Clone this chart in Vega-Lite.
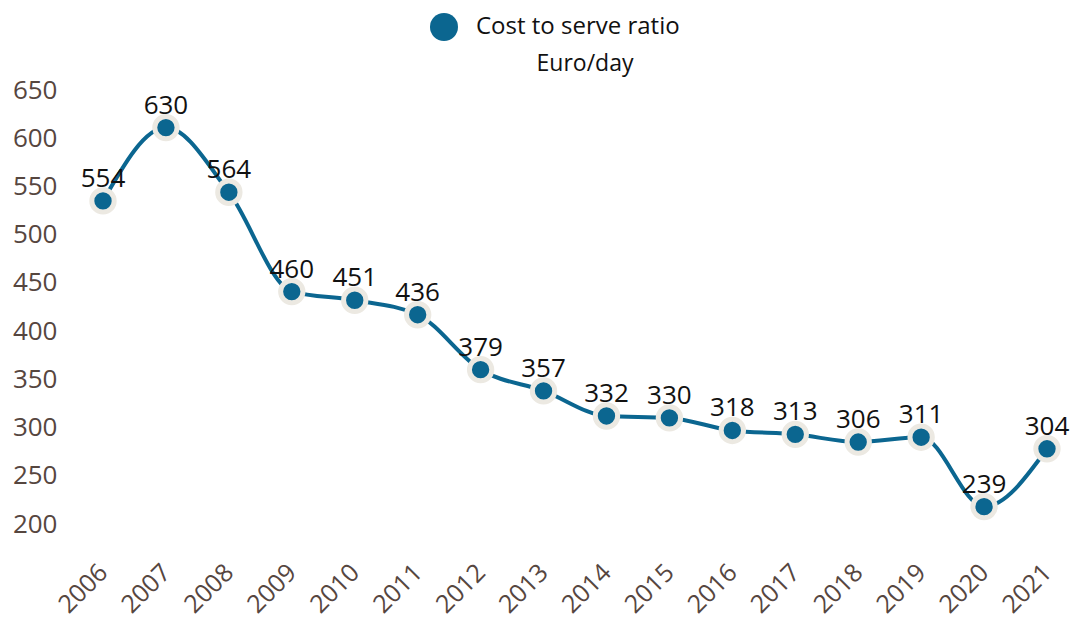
{
  "$schema": "https://vega.github.io/schema/vega-lite/v6.json",
  "width": 944,
  "height": 434,
  "autosize": {"type": "none"},
  "padding": {"left": 103, "top": 90, "right": 32, "bottom": 104},
  "background": "white",
  "config": {"view": {"stroke": null}},
  "title": {"text": "Euro/day", "font": "Open Sans", "fontSize": 23, "fontWeight": "normal", "color": "#111111", "anchor": "middle", "frame": "group", "offset": 16, "dx": 10, "dy": 97, "baseline": "alphabetic"},
  "data": {"values": [
    {"year": "2006", "plot": 535, "label": 554, "series": "Cost to serve ratio"},
    {"year": "2007", "plot": 611, "label": 630, "series": "Cost to serve ratio"},
    {"year": "2008", "plot": 544, "label": 564, "series": "Cost to serve ratio"},
    {"year": "2009", "plot": 441, "label": 460, "series": "Cost to serve ratio"},
    {"year": "2010", "plot": 432, "label": 451, "series": "Cost to serve ratio"},
    {"year": "2011", "plot": 417, "label": 436, "series": "Cost to serve ratio"},
    {"year": "2012", "plot": 360, "label": 379, "series": "Cost to serve ratio"},
    {"year": "2013", "plot": 338, "label": 357, "series": "Cost to serve ratio"},
    {"year": "2014", "plot": 312, "label": 332, "series": "Cost to serve ratio"},
    {"year": "2015", "plot": 310, "label": 330, "series": "Cost to serve ratio"},
    {"year": "2016", "plot": 297, "label": 318, "series": "Cost to serve ratio"},
    {"year": "2017", "plot": 293, "label": 313, "series": "Cost to serve ratio"},
    {"year": "2018", "plot": 285, "label": 306, "series": "Cost to serve ratio"},
    {"year": "2019", "plot": 290, "label": 311, "series": "Cost to serve ratio"},
    {"year": "2020", "plot": 218, "label": 239, "series": "Cost to serve ratio"},
    {"year": "2021", "plot": 278, "label": 304, "series": "Cost to serve ratio"}
  ]},
  "encoding": {
    "x": {"field": "year", "type": "ordinal", "scale": {"type": "point", "padding": 0},
      "axis": {"title": null, "labelAngle": -45, "labelAlign": "right", "labelBaseline": "middle", "labelFont": "Open Sans", "labelFontSize": 25, "labelColor": "#56463f", "labelPadding": 44, "ticks": false, "domain": false, "grid": false, "labelFlush": false, "labelOverlap": false, "labelBound": false}},
    "y": {"field": "plot", "type": "quantitative", "scale": {"domain": [200, 650], "nice": false, "zero": false},
      "axis": {"title": null, "values": [200, 250, 300, 350, 400, 450, 500, 550, 600, 650], "labelFont": "Open Sans", "labelFontSize": 26, "labelColor": "#56463f", "labelPadding": 46, "ticks": false, "domain": false, "grid": false, "labelFlush": false, "labelBaseline": "middle"}}
  },
  "layer": [
    {"mark": {"type": "line", "interpolate": "monotone", "color": "#0b6690", "strokeWidth": 4}},
    {"mark": {"type": "point", "filled": true, "shape": "circle", "size": 500, "stroke": "#ece9e2", "strokeWidth": 5, "opacity": 1, "strokeOpacity": 1, "fillOpacity": 1},
      "encoding": {"color": {"field": "series", "type": "nominal", "scale": {"range": ["#0b6690"]},
        "legend": {"title": null, "orient": "none", "legendX": 327, "legendY": -77, "symbolType": "circle", "symbolSize": 784, "symbolStrokeWidth": 0, "symbolFillColor": "#0b6690", "labelFont": "Open Sans", "labelFontSize": 24, "labelColor": "#111111", "labelOffset": 18, "labelLimit": 400}}}},
    {"mark": {"type": "text", "font": "Open Sans", "fontSize": 26, "color": "#111111", "dy": -22, "baseline": "middle"},
      "encoding": {"text": {"field": "label", "type": "quantitative"}}}
  ]
}
